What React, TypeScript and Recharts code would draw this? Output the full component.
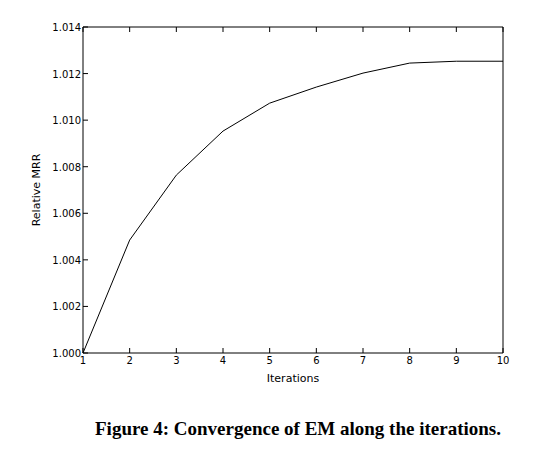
import { LineChart, Line, XAxis, YAxis, CartesianGrid } from "recharts";

const iterations = [1, 2, 3, 4, 5, 6, 7, 8, 9, 10];
const relativeMrr = [1.0, 1.00485, 1.00764, 1.00953, 1.01073, 1.01142, 1.01202, 1.01245, 1.01253, 1.01253];
const yTicks = [1.0, 1.002, 1.004, 1.006, 1.008, 1.01, 1.012, 1.014];

const data = iterations.map((it, i) => ({ it, mrr: relativeMrr[i] }));

const font = "DejaVu Sans, sans-serif";

const BottomTick = (props: any) => {
  const { x, y, payload } = props;
  return (
    <g>
      <line x1={x} y1={y} x2={x} y2={y - 5} stroke="#000" />
      <text x={x} y={y + 11} textAnchor="middle" fontSize={10} fontFamily={font} fill="#000">
        {payload.value}
      </text>
    </g>
  );
};

const TopTick = (props: any) => {
  const { x, y } = props;
  return <line x1={x} y1={y} x2={x} y2={y + 5} stroke="#000" />;
};

const LeftTick = (props: any) => {
  const { x, y, payload } = props;
  return (
    <g>
      <line x1={x} y1={y} x2={x + 5} y2={y} stroke="#000" />
      <text x={x - 2} y={y + 4} textAnchor="end" fontSize={10} fontFamily={font} fill="#000">
        {payload.value.toFixed(3)}
      </text>
    </g>
  );
};

const RightTick = (props: any) => {
  const { x, y } = props;
  return <line x1={x} y1={y} x2={x - 5} y2={y} stroke="#000" />;
};

export default function App() {
  return (
    <div style={{ width: 527 }}>
      <LineChart width={527} height={380} data={data} margin={{ top: 18, right: 31, bottom: 0, left: 30 }}>
        <CartesianGrid stroke="none" />
        <XAxis
          xAxisId="b"
          dataKey="it"
          type="number"
          domain={[1, 10]}
          ticks={iterations}
          tickSize={0}
          tickMargin={0}
          tickLine={false}
          stroke="#000"
          tick={<BottomTick />}
          height={35}
          label={{ value: "Iterations", position: "insideBottom", offset: 6, fontSize: 11, fontFamily: font, fill: "#000" }}
        />
        <XAxis
          xAxisId="t"
          orientation="top"
          dataKey="it"
          type="number"
          domain={[1, 10]}
          ticks={iterations}
          tickSize={0}
          tickMargin={0}
          tickLine={false}
          stroke="#000"
          tick={<TopTick />}
          height={1}
        />
        <YAxis
          yAxisId="l"
          type="number"
          domain={[1.0, 1.014]}
          ticks={yTicks}
          tickSize={0}
          tickMargin={0}
          tickLine={false}
          stroke="#000"
          tick={<LeftTick />}
          width={45}
          label={{ value: "Relative MRR", angle: -90, position: "insideLeft", offset: -2, fontSize: 11, fontFamily: font, fill: "#000", style: { textAnchor: "middle" } }}
        />
        <YAxis
          yAxisId="r"
          orientation="right"
          type="number"
          domain={[1.0, 1.014]}
          ticks={yTicks}
          tickSize={0}
          tickMargin={0}
          tickLine={false}
          stroke="#000"
          tick={<RightTick />}
          width={1}
        />
        <Line
          xAxisId="b"
          yAxisId="l"
          type="linear"
          dataKey="mrr"
          stroke="#000"
          strokeWidth={1}
          dot={false}
          isAnimationActive={false}
        />
      </LineChart>
      <div
        style={{
          marginTop: 30,
          width: 580,
          textAlign: "center",
          fontFamily: "Liberation Serif, serif",
          fontWeight: "bold",
          fontSize: 19,
        }}
      >
        Figure 4: Convergence of EM along the iterations.
      </div>
    </div>
  );
}
